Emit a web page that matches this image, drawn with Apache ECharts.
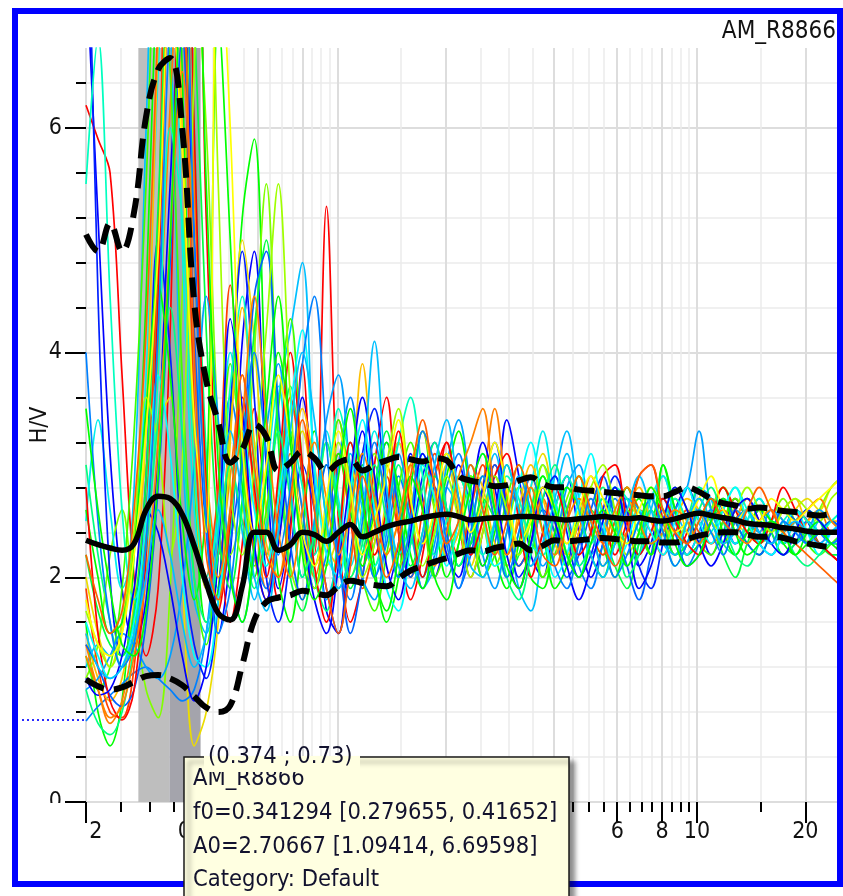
<!DOCTYPE html>
<html>
<head>
<meta charset="utf-8">
<script src="https://cdn.jsdelivr.net/npm/echarts@6/dist/echarts.min.js"></script>
<style>
html, body { margin: 0; padding: 0; background: #fff; }
#chart { width: 843px; height: 896px; }
</style>
</head>
<body>
<div id="chart"></div>
<script>
// sample grid of the H/V curves (Hz)
var freqs = [0.2, 0.216, 0.2333, 0.2519, 0.2721, 0.2939, 0.3174, 0.3428,
  0.3702, 0.3998, 0.4318, 0.4664, 0.5037, 0.544, 0.5875, 0.6345,
  0.6853, 0.7401, 0.7993, 0.8633, 0.9323, 1.007, 1.087, 1.174,
  1.268, 1.37, 1.479, 1.598, 1.726, 1.864, 2.013, 2.174,
  2.348, 2.536, 2.739, 2.958, 3.195, 3.45, 3.726, 4.024,
  4.346, 4.694, 5.069, 5.475, 5.913, 6.386, 6.897, 7.449,
  8.045, 8.688, 9.383, 10.13, 10.94, 11.82, 12.77, 13.79,
  14.89, 16.08, 17.37, 18.76, 20.26, 21.88, 23.63, 25.52];

// average curve and the two std curves
var meanHV = [2.33, 2.29, 2.26, 2.24, 2.30, 2.60, 2.72, 2.70,
  2.56, 2.28, 1.95, 1.68, 1.62, 1.92, 2.40, 2.40,
  2.24, 2.29, 2.40, 2.38, 2.32, 2.40, 2.47, 2.36,
  2.40, 2.45, 2.48, 2.50, 2.53, 2.55, 2.56, 2.54,
  2.51, 2.52, 2.53, 2.53, 2.54, 2.54, 2.53, 2.52,
  2.51, 2.52, 2.53, 2.54, 2.53, 2.52, 2.53, 2.51,
  2.50, 2.52, 2.55, 2.57, 2.55, 2.53, 2.51, 2.48,
  2.47, 2.46, 2.44, 2.43, 2.41, 2.40, 2.40, 2.40];
var upperHV = [5.05, 4.90, 5.15, 4.90, 5.25, 6.10, 6.52, 6.62,
  6.00, 4.45, 3.75, 3.38, 3.02, 3.14, 3.36, 3.25,
  2.95, 3.02, 3.12, 3.06, 2.94, 3.02, 3.05, 2.95,
  3.00, 3.04, 3.07, 3.05, 3.03, 3.06, 3.04, 2.90,
  2.86, 2.84, 2.81, 2.82, 2.86, 2.89, 2.83, 2.80,
  2.80, 2.78, 2.77, 2.76, 2.75, 2.74, 2.73, 2.72,
  2.72, 2.76, 2.80, 2.76, 2.70, 2.66, 2.64, 2.61,
  2.62, 2.61, 2.59, 2.58, 2.56, 2.55, 2.56, 2.56];
var lowerHV = [1.09, 1.03, 1.00, 1.02, 1.07, 1.12, 1.13, 1.10,
  1.04, 0.94, 0.84, 0.80, 0.86, 1.22, 1.62, 1.78,
  1.82, 1.84, 1.88, 1.86, 1.84, 1.92, 1.97, 1.95,
  1.93, 1.92, 1.99, 2.06, 2.10, 2.14, 2.17, 2.21,
  2.24, 2.23, 2.26, 2.28, 2.30, 2.24, 2.28, 2.33,
  2.32, 2.33, 2.34, 2.35, 2.34, 2.33, 2.32, 2.32,
  2.31, 2.31, 2.34, 2.37, 2.39, 2.40, 2.40, 2.38,
  2.36, 2.36, 2.35, 2.32, 2.30, 2.28, 2.27, 2.27];

// one curve per time window
var windowCurves = [
  [7.5,5.2,3.1,1.9,1.4,1.8,3.2,5.5, 7.2,5.0,2.6,1.5,2.2,4.1,4.9,3.0, 1.9,2.5,3.6,2.8,1.7,1.5,2.6,3.3, 2.5,1.9,2.3,3.1,2.7,2.0,2.4,3.0, 2.6,2.1,2.5,3.4,2.9,2.2,2.0,2.6, 2.9,2.4,2.0,2.3,2.8,2.6,2.1,2.3, 2.7,2.5,2.2,2.4,2.7,2.6,2.3,2.4, 2.6,2.5,2.3,2.4,2.6,2.5,2.4,2.5],
  [6.2,5.9,5.6,3.8,2.0,1.3,1.9,4.2, 8.5,9.0,5.2,2.6,1.6,2.3,3.5,2.6, 1.8,2.4,3.9,2.2,5.3,2.5,1.6,2.0, 3.0,3.6,2.4,1.8,2.2,2.9,3.2,2.5, 2.0,2.4,3.0,2.7,2.1,2.3,2.8,2.5, 2.1,2.4,2.8,2.6,2.2,2.5,2.9,3.0, 2.5,2.2,2.4,2.7,2.5,2.3,2.5,2.7, 2.5,2.3,2.4,2.6,2.5,2.3,2.2,2.1],
  [1.6,0.8,0.5,0.9,2.2,4.5,7.8,10.0, 6.5,3.0,1.6,1.9,3.4,5.2,5.9,3.5, 2.0,1.6,2.4,3.3,2.5,1.9,2.2,3.0, 2.1,1.6,2.0,2.8,3.3,2.6,2.0,2.3, 2.9,2.7,2.2,1.9,2.3,2.8,2.4,1.9, 2.1,2.6,2.8,2.3,2.0,2.4,2.7,2.5, 3.0,2.6,2.2,2.3,2.6,2.8,2.5,2.3, 2.2,2.4,2.6,2.5,2.3,2.4,2.5,2.4],
  [1.2,1.4,1.3,1.6,2.8,6.0,9.0,7.0, 3.2,1.8,1.5,2.3,3.0,2.4,1.8,2.5, 3.6,4.2,4.8,2.9,1.8,2.2,3.1,2.6, 2.0,2.5,3.2,2.7,1.9,2.1,2.8,2.6, 2.2,2.7,3.1,2.5,1.9,1.7,2.3,2.9, 3.3,2.7,2.2,2.4,2.8,2.5,2.2,2.6, 2.9,2.6,2.4,2.8,2.7,2.3,2.5,2.6, 2.3,2.5,2.6,2.4,2.3,2.5,2.4,2.5],
  [1.4,1.0,0.7,0.9,1.5,2.4,4.0,6.2, 8.0,5.5,3.0,2.2,2.9,3.8,2.7,1.9, 2.3,3.1,2.6,2.0,2.5,3.4,2.8,2.1, 2.4,3.0,2.5,2.0,2.3,2.9,3.1,2.6, 2.2,2.8,3.5,2.7,2.1,2.3,2.7,2.4, 2.2,2.5,2.9,2.6,2.3,2.4,2.6,2.5, 2.3,2.6,2.8,2.5,2.3,2.4,2.6,2.5, 2.4,2.6,2.5,2.3,2.5,2.6,2.4,2.5],
  [2.0,1.5,1.2,1.6,2.4,3.0,3.4,3.6, 2.0,0.5,0.8,1.6,3.2,5.0,4.1,2.6, 2.0,2.6,3.3,2.7,2.1,2.4,3.0,2.5, 2.2,2.7,3.2,2.8,2.3,2.5,3.0,2.6, 2.1,2.5,2.9,2.6,2.3,2.8,3.1,2.6, 2.2,2.5,2.8,2.6,2.4,2.7,2.5,2.3, 2.5,2.7,2.4,2.3,2.6,2.7,2.5,2.4, 2.6,2.5,2.4,2.6,2.7,2.6,2.8,2.9],
  [3.0,2.2,1.6,1.2,1.5,2.6,4.8,8.0, 9.5,6.0,3.1,1.9,2.4,3.5,2.9,2.2, 2.8,3.7,2.9,2.0,1.7,2.4,3.2,2.7, 2.1,2.5,3.0,2.4,2.0,2.6,3.1,2.7, 2.3,2.6,2.9,2.5,2.2,2.6,3.0,2.7, 2.2,2.0,2.4,2.8,2.6,2.3,2.5,2.7, 2.4,2.2,2.5,2.8,2.6,2.3,2.2,2.5, 2.7,2.5,2.3,2.4,2.6,2.5,2.3,2.4],
  [1.1,1.4,2.2,2.6,1.7,1.0,0.75,1.9, 4.5,7.5,6.0,3.3,2.2,2.6,4.0,5.5, 3.4,2.1,1.8,2.5,3.2,2.6,2.0,2.4, 3.1,2.7,2.1,2.4,3.0,2.6,2.2,2.5, 2.9,2.5,2.1,2.4,2.8,2.5,2.0,2.3, 2.7,2.9,2.4,2.2,2.5,2.8,2.6,2.2, 2.4,2.7,2.5,2.3,2.6,2.8,2.6,2.4, 2.3,2.5,2.7,2.5,2.4,2.6,2.8,2.9],
  [0.72,0.85,0.95,1.05,1.15,1.2,1.1,1.0, 0.9,1.0,1.5,2.6,3.6,3.0,2.2,1.9, 2.5,3.2,2.6,1.9,2.2,3.0,3.6,2.8, 2.0,2.3,2.9,2.5,1.9,2.2,2.8,3.1, 2.5,2.0,2.3,2.8,2.6,2.1,2.4,2.9, 2.6,2.1,1.9,2.3,2.7,2.5,2.2,2.4, 2.7,2.4,2.1,2.3,2.6,2.5,2.3,2.4, 2.6,2.4,2.2,2.3,2.5,2.4,2.3,2.4],
  [2.5,3.4,2.6,1.9,2.3,3.8,6.5,8.5, 5.0,2.6,1.9,2.7,4.0,3.1,2.3,2.9, 3.7,2.8,2.0,2.5,3.3,2.7,2.1,2.6, 3.3,2.8,2.2,2.5,3.1,2.7,2.2,2.4, 2.8,3.1,2.6,2.1,2.4,2.8,3.3,2.7, 2.2,2.0,2.4,2.7,2.4,2.1,2.3,2.7, 2.9,2.5,2.2,2.4,2.7,2.5,2.3,2.5, 2.7,2.5,2.3,2.5,2.6,2.4,2.5,2.6],
  [9.0,4.5,2.0,1.3,1.6,2.9,5.0,4.0, 2.2,1.4,1.1,1.8,3.5,4.9,3.6,2.0, 1.6,2.2,3.0,2.6,1.9,1.5,2.2,3.1, 3.5,2.7,2.0,2.3,2.9,3.2,2.6,2.1, 2.3,2.8,3.2,2.6,2.0,2.2,2.7,2.9, 2.4,2.0,2.2,2.6,2.9,2.6,2.1,1.9, 2.3,2.6,2.8,2.5,2.2,2.4,2.7,2.5, 2.3,2.2,2.4,2.6,2.5,2.3,2.4,2.5],
  [1.9,1.2,0.8,0.75,1.2,2.5,5.0,9.0, 7.5,3.5,2.0,2.8,4.6,3.3,2.2,1.8, 2.6,3.6,2.9,2.1,2.4,3.1,2.5,1.9, 2.3,2.9,2.4,2.0,2.6,3.1,2.5,2.2, 2.6,3.0,2.5,2.2,2.5,2.9,2.6,2.3, 2.6,2.8,2.4,2.2,2.5,2.8,2.6,2.4, 2.2,2.4,2.6,2.4,2.3,2.5,2.7,2.5, 2.3,2.4,2.6,2.5,2.4,2.3,2.2,2.1],
  [1.3,1.0,1.2,1.9,3.3,5.5,8.0,6.5, 3.8,2.0,1.4,2.4,3.9,3.0,2.1,2.6, 3.5,4.3,3.0,2.1,2.6,3.4,2.8,2.0, 1.7,2.2,2.8,3.2,2.6,2.0,2.3,2.9, 2.6,2.0,2.2,2.7,3.0,2.5,2.0,2.2, 2.6,2.9,2.5,2.1,2.3,2.6,2.4,2.2, 2.5,2.8,2.6,2.3,2.2,2.5,2.7,2.5, 2.3,2.4,2.6,2.5,2.3,2.2,2.3,2.4],
  [1.5,1.1,0.9,1.1,1.8,3.4,6.8,9.5, 6.0,3.0,1.9,2.3,3.3,4.4,3.2,2.3, 2.0,2.6,3.5,3.0,2.3,2.1,2.7,3.9, 2.8,2.2,2.5,3.0,3.3,2.7,2.2,2.4, 3.0,2.8,2.3,2.1,2.6,3.0,2.7,2.3, 2.1,2.4,2.7,2.5,2.3,2.6,2.8,2.5, 2.3,2.5,2.7,2.6,2.4,2.3,2.5,2.7, 2.5,2.4,2.6,2.7,2.5,2.6,2.5,2.5],
  [2.2,1.7,1.4,1.3,1.7,2.9,5.3,7.8, 8.8,7.0,4.2,2.4,1.9,2.7,4.2,5.0, 3.2,2.0,1.7,2.3,3.0,2.6,1.9,2.2, 2.8,3.3,2.7,2.1,2.4,2.9,2.6,2.1, 2.3,2.7,2.5,2.0,2.2,2.6,2.9,2.5, 2.1,2.3,2.6,2.4,2.1,1.9,2.3,2.7, 2.5,2.2,2.3,2.6,2.5,2.2,2.0,2.3, 2.5,2.4,2.2,2.3,2.4,2.3,2.2,2.2],
  [1.0,1.1,1.3,1.5,1.4,1.2,1.1,1.3, 1.9,3.0,4.5,3.4,2.1,1.6,2.2,3.3, 3.9,2.8,2.0,2.5,3.4,3.8,2.9,2.0, 1.8,2.4,3.1,2.6,2.0,2.3,3.0,3.4, 2.8,2.2,1.9,2.4,2.9,2.6,2.1,2.3, 2.8,3.0,2.5,2.1,2.3,2.7,2.6,2.3, 2.4,2.6,2.8,3.3,2.6,2.4,2.6,2.5, 2.4,2.6,2.5,2.3,2.4,2.6,2.5,2.4],
  [1.4,1.2,0.95,0.85,1.0,1.6,2.8,4.8, 6.8,4.2,2.4,1.8,2.3,3.1,4.5,4.9, 3.5,2.3,1.8,2.4,3.0,2.2,1.5,2.0, 2.7,3.2,2.6,2.0,2.3,2.8,2.4,1.9, 2.2,2.7,3.0,2.5,2.1,2.3,2.6,2.4, 2.0,2.2,2.6,2.9,2.5,2.1,1.8,2.2, 2.6,2.4,2.1,2.2,2.5,2.7,2.5,2.3, 2.2,2.4,2.6,2.5,2.3,2.4,2.5,2.4],
  [5.5,6.8,4.5,2.6,1.8,2.2,3.8,6.0, 5.2,3.0,2.0,2.5,3.7,4.5,3.0,2.1, 2.4,3.3,2.8,2.2,2.6,3.5,3.0,2.3, 2.1,2.6,3.2,3.6,2.9,2.2,2.5,2.9, 2.6,2.2,2.5,2.9,2.7,2.3,2.2,2.6, 2.9,2.6,2.3,2.5,2.8,2.7,2.4,2.3, 2.5,2.7,2.5,2.3,2.4,2.6,2.8,2.6, 2.4,2.3,2.5,2.6,2.5,2.4,2.5,2.6],
  [2.6,2.0,1.5,1.6,2.3,3.5,4.6,3.8, 2.5,1.8,2.7,7.0,5.0,2.8,2.0,2.9, 4.0,3.3,2.3,1.9,2.5,3.1,2.6,2.1, 2.6,3.2,2.8,2.2,1.9,2.4,2.9,3.3, 2.7,2.1,2.4,3.0,2.6,2.0,1.9,2.4, 2.8,2.6,2.2,2.0,2.4,2.8,2.5,2.2, 3.0,2.6,2.3,2.5,2.7,2.4,2.2,2.4, 2.6,2.5,2.3,2.2,2.4,2.5,2.3,2.3],
  [2.8,1.5,0.9,0.73,1.0,2.2,4.5,8.0, 10.0,6.0,2.8,1.7,2.5,3.6,2.8,2.0, 2.9,4.0,3.0,2.1,1.6,2.3,3.2,2.7, 2.2,2.6,3.3,2.6,2.0,2.5,3.2,2.7, 2.2,2.5,2.9,3.1,2.5,2.0,2.4,2.8, 2.5,2.2,2.4,2.9,3.0,2.5,2.2,2.4, 2.7,2.5,2.3,2.2,2.5,2.8,2.6,2.4, 2.3,2.5,2.8,2.6,2.4,2.3,2.2,2.1],
  [1.7,1.4,1.2,1.5,2.4,3.6,3.2,2.2, 3.0,6.5,9.0,5.5,2.8,2.2,3.0,4.2, 5.5,3.6,2.3,1.9,2.4,3.2,2.7,2.0, 2.3,3.0,3.5,2.7,2.1,2.4,2.9,2.5, 2.0,2.4,2.9,2.6,2.2,2.5,3.0,2.6, 2.3,2.5,2.8,3.0,2.6,2.2,2.4,2.7, 2.5,2.3,2.5,2.7,2.5,2.4,2.6,2.8, 2.6,2.4,2.6,2.7,2.6,2.5,2.7,2.8],
  [1.6,1.3,1.1,1.2,1.6,2.5,3.8,3.1, 2.0,1.3,1.2,1.8,2.6,3.3,2.6,2.1, 2.7,3.5,4.2,3.0,2.2,2.0,2.8,3.4, 2.6,1.9,1.7,2.3,3.0,2.7,2.1,2.5, 3.0,2.6,2.1,2.2,2.8,3.2,2.6,2.0, 2.2,2.7,3.1,2.5,2.1,2.3,2.6,2.4, 2.2,2.5,2.8,2.5,2.3,2.6,2.8,2.5, 2.3,2.2,2.4,2.6,2.4,2.2,2.4,2.5],
  [1.1,0.95,1.0,1.3,1.9,2.6,2.4,1.9, 1.3,0.9,1.2,2.2,4.3,3.5,2.3,1.8, 2.3,3.0,2.4,1.8,1.5,2.1,2.9,3.6, 2.9,2.1,1.8,2.4,3.1,2.8,2.2,2.0, 2.6,3.2,2.8,2.2,1.9,2.3,2.8,2.5, 2.1,1.8,2.1,2.5,2.8,2.4,1.9,2.1, 2.5,2.8,2.6,2.3,2.1,2.3,2.6,2.7, 2.5,2.3,2.2,2.4,2.6,2.5,2.4,2.4],
  [1.0,0.7,0.6,0.8,1.4,2.3,3.4,4.4, 3.3,2.0,1.6,2.2,3.0,2.5,1.9,2.4, 3.3,2.7,2.0,2.4,3.2,2.6,2.0,2.3, 3.0,2.5,2.0,2.3,2.8,3.2,2.6,2.1, 2.4,2.9,2.6,2.0,1.8,2.2,2.7,3.0, 2.5,2.1,2.3,2.7,2.5,2.0,2.2,2.6, 2.4,2.1,2.3,2.6,2.8,2.5,2.2,2.1, 2.3,2.5,2.4,2.2,2.1,2.2,2.3,2.3],
  [1.3,1.0,0.75,0.85,1.3,2.0,3.2,5.0, 6.5,4.8,2.7,2.0,2.6,3.4,4.5,3.4, 2.4,2.0,2.6,3.2,2.7,2.2,2.6,3.1, 2.7,2.2,2.5,3.0,2.6,2.1,2.4,2.9, 3.2,3.5,2.7,2.2,2.5,2.8,2.4,2.2, 2.5,2.7,2.5,2.3,2.6,2.8,2.5,2.3, 2.4,2.6,2.5,2.3,2.5,2.6,2.4,2.3, 2.5,2.6,2.4,2.5,2.6,2.7,2.5,2.4],
  [4.0,2.5,1.6,1.2,1.4,2.3,4.2,7.0, 8.0,5.0,2.5,1.5,1.9,3.0,4.0,3.1, 2.2,2.8,3.9,4.5,3.2,2.1,1.8,2.5, 3.2,2.6,2.0,2.5,3.3,3.0,2.3,1.9, 2.4,2.9,2.5,2.0,2.4,2.9,2.6,2.1, 1.9,2.3,2.7,2.4,2.0,2.2,2.5,2.7, 2.4,2.1,2.3,2.6,2.4,2.2,2.5,2.6, 2.4,2.3,2.5,2.4,2.3,2.4,2.3,2.4],
  [1.8,1.4,1.3,1.5,2.2,3.3,4.9,7.2, 5.8,3.4,2.4,8.0,6.0,3.2,2.4,3.0, 3.8,3.2,2.4,2.1,2.7,3.3,2.8,2.2, 2.5,2.9,3.4,2.7,2.3,2.6,3.1,2.8, 2.4,2.7,3.2,2.8,2.3,2.5,2.8,2.6, 2.3,2.6,2.9,2.7,2.4,2.3,2.6,2.8, 2.6,2.4,2.5,2.7,2.9,2.6,2.5,2.6, 2.5,2.7,2.6,2.5,2.6,2.7,2.8,2.9],
  [1.5,1.2,1.1,1.2,1.5,2.0,2.6,2.2, 1.6,1.2,1.5,2.4,3.3,2.7,2.0,1.7, 2.4,3.3,4.0,3.4,2.5,1.9,2.2,2.9, 4.1,2.8,2.1,1.9,2.4,3.0,3.4,2.7, 2.1,2.0,2.5,3.0,2.6,2.1,2.3,2.7, 3.1,2.6,2.2,2.0,2.3,2.6,2.9,2.6, 2.3,2.2,2.5,2.7,2.5,2.3,2.4,2.6, 2.4,2.3,2.4,2.5,2.4,2.3,2.4,2.5],
  [3.5,2.6,1.9,1.4,1.3,1.7,2.9,5.0, 7.5,8.5,5.5,3.0,2.0,1.6,2.3,3.5, 4.5,3.2,2.2,1.8,2.1,2.9,3.5,2.7, 2.0,1.7,2.2,2.9,2.6,2.0,1.8,2.3, 2.8,3.1,2.6,2.1,1.9,2.4,2.9,2.6, 2.2,2.0,2.3,2.6,2.4,2.1,2.4,2.8, 2.6,2.3,2.1,2.2,2.5,2.7,2.4,2.2, 2.3,2.5,2.4,2.2,2.3,2.4,2.3,2.2],
  [2.2,1.8,1.5,1.7,2.6,4.2,7.0,10.0, 8.0,4.0,2.2,1.8,2.6,3.8,3.0,2.2, 2.0,2.7,3.4,2.6,1.9,1.5,2.1,2.9, 2.5,2.0,2.3,2.9,3.4,2.8,2.3,2.5, 3.0,2.6,2.2,2.5,3.0,2.7,2.2,2.1, 2.5,2.9,2.6,2.3,2.1,2.4,2.9,3.0, 2.6,2.4,2.3,2.5,2.7,2.5,2.4,2.6, 2.8,2.6,2.4,2.3,2.2,2.1,2.0,1.9]
];

// peak frequency and amplitude: [value, low, high]
var f0Stats = [0.341294, 0.279655, 0.41652];
var a0Stats = [2.70667, 1.09414, 6.69598];
var stationName = 'AM_R8866';
var category = 'Default';
var cursorPoint = [0.374, 0.73];

var majorFreqTicks = [0.2, 0.4, 0.6, 0.8, 1, 2, 4, 6, 8, 10, 20];
var minorFreqTicks = [0.25, 0.3, 0.35, 0.45, 0.5, 0.55, 0.65, 0.7, 0.75, 0.85, 0.9, 0.95,
  1.5, 2.5, 3, 3.5, 4.5, 5, 5.5, 6.5, 7, 7.5, 8.5, 9, 9.5, 15];
var majorHVTicks = [0, 2, 4, 6];
var minorHVTicks = [0.4, 0.8, 1.2, 1.6, 2.4, 2.8, 3.2, 3.6, 4.4, 4.8, 5.2, 5.6, 6.4];

var FMIN = 0.2, FMAX = 24.5, HVMAX = 6.71;
var FONT = "'DejaVu Sans Condensed', 'DejaVu Sans', sans-serif";
var windowColors = ['#0000ff', '#ff0000', '#00ff00', '#00bfff', '#ff8000', '#ecdc00', '#00ff80', '#80ff00',
  '#0080ff', '#00eeee', '#0020ff', '#ff4000', '#40ff00', '#ffbf00', '#00ff40', '#00a0ff',
  '#0060ff', '#00ffc0', '#00ff00', '#ff0000', '#a0ff00', '#00ffff', '#0000ff', '#00ff80',
  '#ff8000', '#0080ff', '#ffff00', '#00c0ff', '#00ff00', '#ff6000'];
var bandColors = ['#bebebe', '#a4a4ac'];

function lg(f) { return Math.log10(f); }
function toPairs(vals) {
  return vals.map(function (v, i) { return [lg(freqs[i]), v]; });
}

var chart = echarts.init(document.getElementById('chart'));

var series = [];
series.push({
  type: 'custom',
  z: 1,
  silent: true,
  renderItem: function (params, api) {
    var p0 = api.coord([api.value(0), HVMAX]);
    var p1 = api.coord([api.value(1), 0]);
    return {
      type: 'rect',
      shape: { x: p0[0], y: p0[1], width: p1[0] - p0[0], height: p1[1] - p0[1] },
      style: { fill: bandColors[params.dataIndex] }
    };
  },
  encode: { x: [0, 1] },
  data: [[lg(f0Stats[1]), lg(f0Stats[0])], [lg(f0Stats[0]), lg(f0Stats[2])]]
});

windowCurves.forEach(function (vals, i) {
  series.push({
    type: 'line',
    data: toPairs(vals),
    symbol: 'none',
    smooth: 0.35,
    silent: true,
    lineStyle: { color: windowColors[i], width: 1.7 }
  });
});

[upperHV, lowerHV].forEach(function (vals) {
  series.push({
    type: 'line',
    data: toPairs(vals),
    symbol: 'none',
    smooth: 0.4,
    silent: true,
    lineStyle: { color: '#000', width: 6, type: [20, 10] }
  });
});
series.push({
  type: 'line',
  data: toPairs(meanHV),
  symbol: 'none',
  smooth: 0.4,
  silent: true,
  lineStyle: { color: '#000', width: 5.5 }
});

function xAxisBase(ticks, len, withLabels, gridColor, gridWidth) {
  return {
    type: 'value',
    position: 'bottom',
    min: lg(FMIN),
    max: lg(FMAX),
    axisLine: { show: false, onZero: false },
    axisTick: { show: true, customValues: ticks.map(lg), length: len, lineStyle: { color: '#000', width: 2 } },
    axisLabel: {
      show: withLabels,
      customValues: ticks.map(lg),
      margin: 19,
      color: '#111',
      fontSize: 23,
      fontFamily: FONT,
      formatter: function (v) {
        var f = Math.pow(10, v);
        var s = f < 1 ? f.toFixed(1) : String(Math.round(f));
        // first label is clipped by the plot edge in the original
        if (s === '0.2') return '{hide|0.}2';
        return s;
      },
      rich: { hide: { color: 'rgba(0,0,0,0)', fontSize: 23, fontFamily: FONT } }
    },
    splitLine: { show: true, lineStyle: { color: gridColor, width: gridWidth } }
  };
}
function yAxisBase(ticks, len, withLabels, gridColor, gridWidth) {
  return {
    type: 'value',
    position: 'left',
    min: 0,
    max: HVMAX,
    axisLine: { show: false, onZero: false },
    axisTick: { show: true, customValues: ticks, length: len, lineStyle: { color: '#000', width: 2 } },
    axisLabel: { show: withLabels, customValues: ticks, margin: 24, color: '#111', fontSize: 23, fontFamily: FONT },
    splitLine: { show: true, lineStyle: { color: gridColor, width: gridWidth } }
  };
}

var yMain = yAxisBase(majorHVTicks, 21, true, '#dddddd', 2);
yMain.name = 'H/V';
yMain.nameLocation = 'middle';
yMain.nameGap = 34;
yMain.nameMoveOverlap = false;
yMain.nameTextStyle = { fontSize: 23, color: '#111', fontFamily: FONT };

chart.setOption({
  animation: false,
  backgroundColor: '#fff',
  title: {
    text: stationName,
    right: 7,
    top: 20,
    padding: 0,
    textStyle: { fontSize: 24, fontWeight: 'normal', color: '#111', fontFamily: FONT }
  },
  grid: { left: 86, top: 48, right: 6, bottom: 94, outerBoundsMode: 'none' },
  xAxis: [
    xAxisBase(majorFreqTicks, 21, true, '#dddddd', 2),
    xAxisBase(minorFreqTicks, 10, false, '#ebebeb', 1.5)
  ],
  yAxis: [
    yMain,
    yAxisBase(minorHVTicks, 10, false, '#ebebeb', 1.5)
  ],
  series: series
});

// cursor readout and pick tooltip, placed from the cursor point
var cur = chart.convertToPixel({ gridIndex: 0 }, [lg(cursorPoint[0]), cursorPoint[1]]);
var tipX = Math.round(cur[0]);
var tipY = Math.round(cur[1]) + 37;
var tipLines = [
  stationName,
  'f0=' + f0Stats[0] + ' [' + f0Stats[1] + ', ' + f0Stats[2] + ']',
  'A0=' + a0Stats[0] + ' [' + a0Stats[1] + ', ' + a0Stats[2] + ']',
  'Category: ' + category
];
var lineY = [22, 56, 90, 123];
var txt = { fontSize: 23.5, fontFamily: FONT, fill: '#12122e', verticalAlign: 'middle' };

var elements = [
  { type: 'rect', z: 60, silent: true,
    shape: { x: 15, y: 11, width: 825, height: 873 },
    style: { fill: 'none', stroke: '#0000ff', lineWidth: 6 } },
  { type: 'line', z: 60, silent: true,
    shape: { x1: 22, y1: cur[1], x2: 86, y2: cur[1] },
    style: { stroke: '#2a2aff', lineWidth: 2, lineDash: [2, 3] } },
  { type: 'rect', z: 60, silent: true,
    shape: { x: 42, y: 803, width: 22, height: 15 },
    style: { fill: '#fff' } },
  { type: 'rect', z: 100, silent: true,
    shape: { x: tipX, y: tipY, width: 385, height: 200 },
    style: { fill: '#ffffe1', stroke: '#1a1a1a', lineWidth: 1.5,
      shadowBlur: 5, shadowOffsetX: 5, shadowOffsetY: 5, shadowColor: 'rgba(0,0,0,0.45)' } }
];
tipLines.forEach(function (t, i) {
  elements.push({ type: 'text', z: 101, silent: true, x: tipX + 9, y: tipY + lineY[i],
    style: Object.assign({ text: t }, txt) });
});
elements.push({ type: 'rect', z: 102, silent: true,
  shape: { x: tipX + 20, y: tipY - 1, width: 156, height: 16 },
  style: { fill: '#ffffe1' } });
elements.push({ type: 'text', z: 103, silent: true, x: tipX + 24, y: tipY,
  style: Object.assign({ text: '(' + cursorPoint[0] + ' ; ' + cursorPoint[1] + ')' }, txt) });

chart.setOption({ graphic: { elements: elements } });

window.addEventListener('resize', function () {
  chart.resize();
});
</script>
</body>
</html>
